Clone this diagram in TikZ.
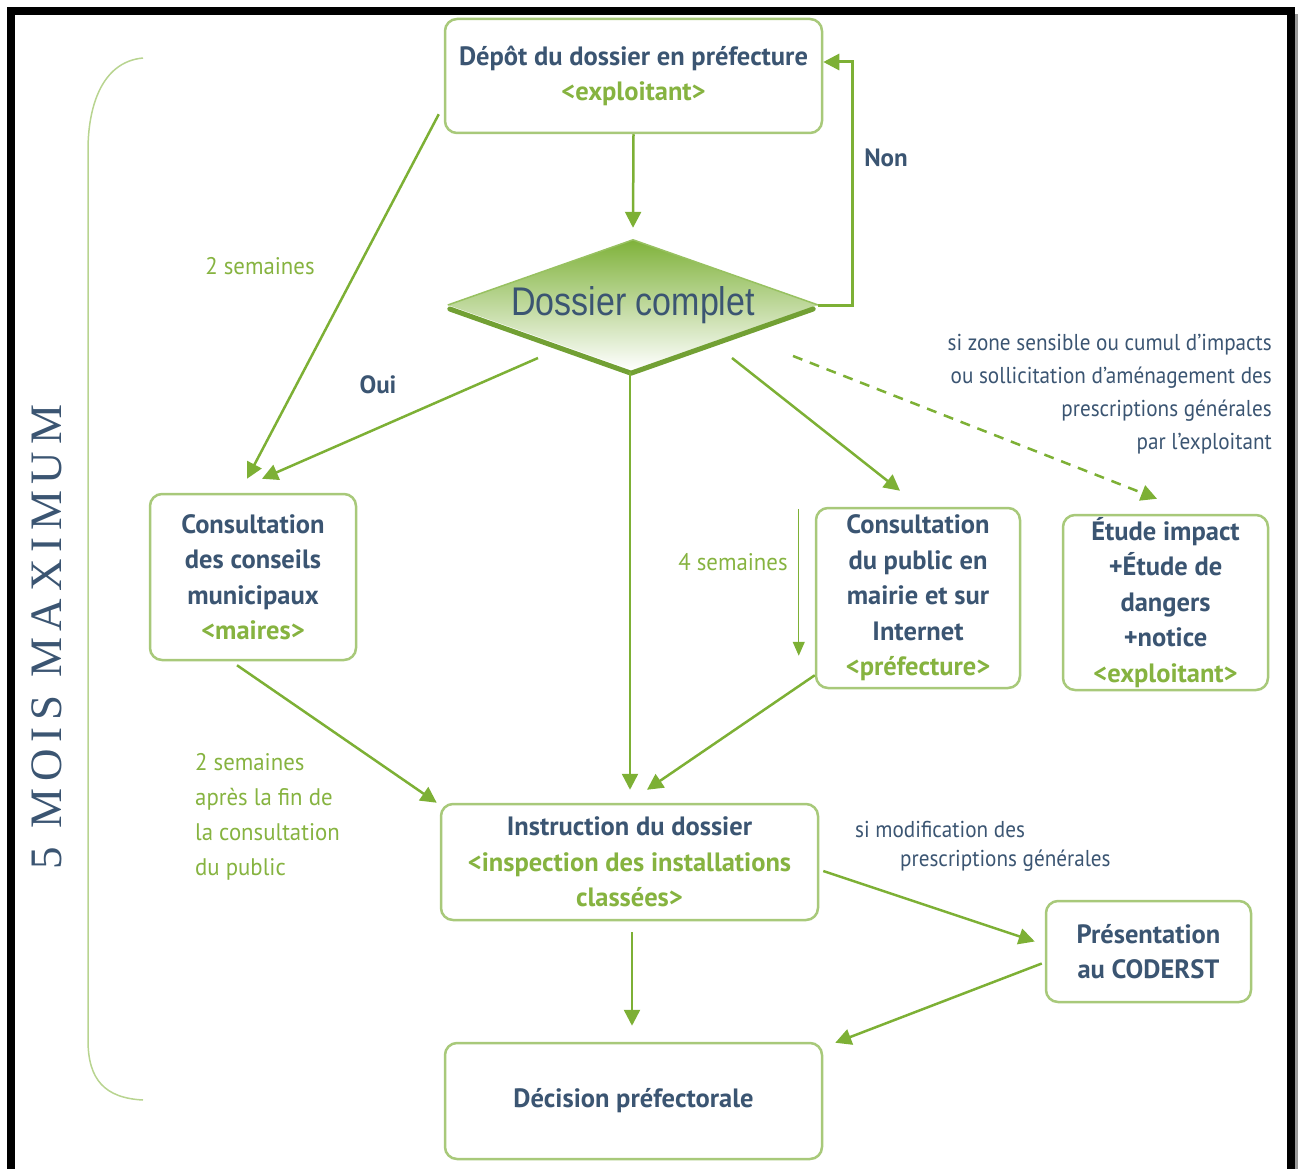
\documentclass[tikz,border=0pt]{standalone}
\usepackage{fontspec}
\setmainfont{PT Sans}
\newfontfamily\moisfont[LetterSpace=15]{Liberation Serif}
\newfontfamily\dcfont{Liberation Sans}
\usetikzlibrary{arrows.meta,calc}
\definecolor{dk}{HTML}{3B5572}
\definecolor{gt}{HTML}{86B340}
\definecolor{ar}{HTML}{7DB035}
\definecolor{bd}{HTML}{A8C97A}
\definecolor{brc}{HTML}{B8D490}
\definecolor{dtop}{HTML}{7FB23A}
\tikzset{
  box/.style={draw=bd, line width=2.5pt, rounded corners=12pt, fill=white, align=center,
    text=dk, font=\bfseries\fontsize{26.5}{35.5}\selectfont, inner sep=0pt},
  arr/.style={draw=ar, line width=2.5pt, -{Triangle[length=16pt,width=16pt]}},
  thinarr/.style={draw=ar, line width=1.2pt, -{Triangle[length=14pt,width=12pt]}},
  lbl/.style={text=gt, font=\fontsize{24}{35}\selectfont, inner sep=0pt, xscale=0.95},
  note/.style={text=dk, font=\fontsize{23}{33}\selectfont, inner sep=0pt, xscale=0.92},
  yn/.style={text=dk, font=\bfseries\fontsize{25}{30}\selectfont, inner sep=0pt}
}
\begin{document}
\begin{tikzpicture}[x=1pt,y=-1pt]
\useasboundingbox (0,0) rectangle (1298,1169);
% frame
\draw[line width=3pt, black!40] (1296,1169) -- (1296,14);
\draw[line width=8pt, black, line join=miter] (11,1169) -- (11,11) -- (1291,11) -- (1291,1169);
% brace
\draw[brc, line width=1.5pt] (143,58) .. controls (100,62) and (88,110) .. (88,150) -- (88,1040)
  .. controls (88,1080) and (105,1098) .. (143,1100);
\node[rotate=90, text=dk, font=\moisfont\fontsize{45}{45}\selectfont, inner sep=0pt] (mois) at (47,637) {5 MOIS MAXIMUM};

% boxes
\node[box, minimum width=377pt, minimum height=114pt] (depot) at (633.5,76)
  {Dépôt du dossier en préfecture\\ \textcolor{gt}{<exploitant>}};
\node[box, minimum width=206pt, minimum height=166pt] (muni) at (253,577)
  {Consultation\\des conseils\\municipaux\\ \textcolor{gt}{<maires>}};
\node[box, minimum width=204pt, minimum height=180pt] (public) at (918,598)
  {Consultation\\du public en\\mairie et sur\\Internet\\ \textcolor{gt}{<préfecture>}};
\node[box, minimum width=205pt, minimum height=175pt] (etude) at (1165.5,602.5)
  {Étude impact\\+Étude de\\dangers\\+notice\\ \textcolor{gt}{<exploitant>}};
\node[box, minimum width=377pt, minimum height=116pt] (instr) at (629.5,862)
  {Instruction du dossier\\ \textcolor{gt}{<inspection des installations}\\ \textcolor{gt}{classées>}};
\node[box, minimum width=205pt, minimum height=101pt] (pres) at (1148.5,951.5)
  {Présentation\\au CODERST};
\node[box, minimum width=377pt, minimum height=116pt] (decision) at (633.5,1101)
  {Décision préfectorale};

% diamond
\node[minimum width=370pt, minimum height=130pt, inner sep=0pt] (diamond) at (633,305) {};
\shade[top color=dtop, bottom color=white] (diamond.north) -- (diamond.east) -- (diamond.south) -- (diamond.west) -- cycle;
\draw[line width=1.5pt, dtop!80!white] (diamond.west) -- (diamond.north) -- (diamond.east);
\draw[line width=5pt, dtop!90!black, line join=round, line cap=round]
  ($(diamond.west)+(2,4)$) -- ($(diamond.south)+(-2,3)$) -- ($(diamond.east)+(-5,4)$);
\node[text=dk, font=\dcfont\fontsize{40}{40}\selectfont, xscale=0.85, inner sep=0pt] (dctext) at (diamond.center) {Dossier complet};

% arrows
\draw[arr] (depot.south) -- ($(diamond.north)+(0,-12)$);
\draw[arr, line width=3pt] (diamond.east) -- ++(34,0) |- ($(depot.east)+(0,-14)$);
\draw[arr] ($(depot.south west)+(-5,-20)$) -- ($(muni.north)+(-6,-14)$);
\draw[arr] ($(diamond.center)+(-95,53)$) -- ($(muni.north)+(9,-14)$);
\draw[arr] ($(diamond.south)+(-3,2)$) -- ($(instr.north)+(0.5,-13)$);
\draw[arr] ($(diamond.center)+(99,53)$) -- ($(public.north)+(-18,-16)$);
\draw[arr, dash pattern=on 10pt off 8pt] ($(diamond.center)+(160,51)$) -- ($(etude.north)+(-8.5,-15)$);
\draw[thinarr] ($(public.north west)+(-16,2)$) -- ($(public.north west)+(-16,149)$);
\draw[arr] ($(public.south west)+(0,-14)$) -- ($(instr.north)+(17.5,-13)$);
\draw[arr] ($(muni.south)+(-16,4)$) -- ($(instr.north west)+(-3,0)$);
\draw[arr] ($(instr.south)+(2.5,11)$) -- ($(decision.north)+(-1.5,-16)$);
\draw[arr] ($(instr.east)+(4,9)$) -- ($(pres.west)+(-10,-10)$);
\draw[arr] ($(pres.west)+(-3,12)$) -- ($(decision.north east)+(12,1)$);

% labels
\node[yn] (non) at (886,158) {Non};
\node[yn] (oui) at (378,385) {Oui};
\node[lbl] (l2s) at (260,266) {2 semaines};
\node[lbl] (l4s) at (733,562) {4 semaines};
\node[lbl, align=left, anchor=north west] (l2a) at (195,753) {2 semaines\\après la fin de\\la consultation\\du public};
\node[note, align=right, anchor=north east] (zone) at (1272,334)
  {si zone sensible ou cumul d'impacts\\ou sollicitation d'aménagement des\\prescriptions générales\\par l'exploitant};
\node[note, anchor=west] (modif1) at (855,829) {si modification des};
\node[note, anchor=west] (modif2) at (900,861) {prescriptions générales};
\end{tikzpicture}
\end{document}
